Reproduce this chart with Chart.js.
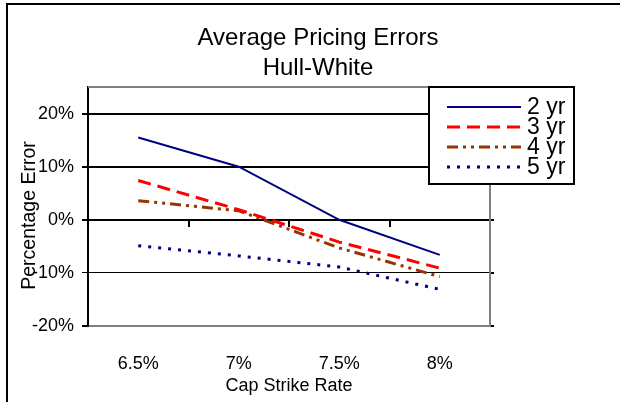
<!DOCTYPE html>
<html lang="en">
<head>
    <meta charset="UTF-8">
    <title>Average Pricing Errors</title>
    <script src="https://cdn.jsdelivr.net/npm/chart.js"></script>
</head>
<style>
    body{
        margin: 0;
        background: #fff;
    }
    .wrap{
        position: relative;
        width: 620px;
        height: 402px;
        overflow: hidden;
    }
    .frame{
        position: absolute;
        left: 6px;
        top: 3px;
        width: 620px;
        height: 402px;
        border-left: 2px solid #000;
        border-top: 2px solid #000;
        pointer-events: none;
    }
</style>
<body>
    <div class="wrap">
        <canvas id="chart" width="620" height="402"></canvas>
        <div class="frame"></div>
    </div>

<script>
    let strikes = ['6.5%', '7%', '7.5%', '8%'];
    let yr2 = [15.5, 10.0, 0.0, -6.6];
    let yr3 = [7.4, 1.9, -4.2, -9.1];
    let yr4 = [3.6, 1.7, -5.3, -10.7];
    let yr5 = [-4.9, -6.8, -8.9, -13.1];
    let seriesNames = ['2 yr', '3 yr', '4 yr', '5 yr'];
    let yTitle = 'Percentage Error';

    let font = "'Liberation Sans', Arial, sans-serif";
    let padLeft = 16;

    function keepTens(scale){
        scale.ticks = scale.ticks.filter(t => t.value <= 20);
    }

    // grey line along the top of the plot area
    let plotTop = {
        id: 'plotTop',
        beforeDatasetsDraw(chart){
            let a = chart.chartArea;
            let ctx = chart.ctx;
            ctx.save();
            ctx.strokeStyle = '#808080';
            ctx.lineWidth = 2;
            ctx.beginPath();
            ctx.moveTo(a.left, a.top);
            ctx.lineTo(a.right, a.top);
            ctx.stroke();
            ctx.restore();
        }
    };

    // y title sits a little below the middle, over the tick labels
    let sideTitle = {
        id: 'sideTitle',
        afterDraw(chart){
            let ctx = chart.ctx;
            let a = chart.chartArea;
            ctx.save();
            ctx.translate(30, (a.top + a.bottom) / 2 + 9);
            ctx.rotate(-Math.PI / 2);
            ctx.font = '19.5px ' + font;
            ctx.fillStyle = '#000';
            ctx.textAlign = 'center';
            ctx.textBaseline = 'middle';
            ctx.fillText(yTitle, 0, 0);
            ctx.restore();
        }
    };

    // legend box drawn over the top right of the plot
    let boxLegend = {
        id: 'boxLegend',
        afterDraw(chart){
            let ctx = chart.ctx;
            let a = chart.chartArea;
            let bx = 429, by = a.top, bw = 145, bh = 97;
            ctx.save();
            ctx.setLineDash([]);
            ctx.fillStyle = '#fff';
            ctx.fillRect(bx, by, bw, bh);
            ctx.strokeStyle = '#000';
            ctx.lineWidth = 2;
            ctx.strokeRect(bx, by, bw, bh);
            ctx.font = '23px ' + font;
            ctx.textBaseline = 'middle';
            chart.data.datasets.forEach((ds, i) => {
                let y = by + 20 + i * 20;
                ctx.setLineDash(ds.borderDash || []);
                ctx.strokeStyle = ds.borderColor;
                ctx.lineWidth = ds.borderWidth;
                ctx.beginPath();
                ctx.moveTo(447, y);
                ctx.lineTo(521, y);
                ctx.stroke();
                ctx.setLineDash([]);
                ctx.fillStyle = '#000';
                ctx.fillText(ds.label, 527, y + 1);
            });
            ctx.restore();
        }
    };

    let chart = new Chart(document.getElementById('chart'), {
        type: 'line',
        data: {
            labels: strikes,
            datasets: [
                { label: seriesNames[0], data: yr2, borderColor: '#000080', borderWidth: 2, borderDash: [] },
                { label: seriesNames[1], data: yr3, borderColor: '#ff0000', borderWidth: 3, borderDash: [13, 7] },
                { label: seriesNames[2], data: yr4, borderColor: '#993300', borderWidth: 3, borderDash: [11, 5, 3, 5, 3, 5] },
                { label: seriesNames[3], data: yr5, borderColor: '#000080', borderWidth: 3, borderDash: [3, 7] }
            ]
        },
        options: {
            responsive: false,
            animation: false,
            layout: { padding: { left: padLeft, right: 0, top: 0, bottom: 0 } },
            elements: {
                point: { radius: 0, hoverRadius: 0 },
                line: { tension: 0, fill: false, borderCapStyle: 'butt' }
            },
            scales: {
                x: {
                    type: 'category',
                    position: { y: 0 },
                    offset: true,
                    ticks: { display: false },
                    grid: { offset: true, drawOnChartArea: false, tickLength: 6, color: '#000', lineWidth: 2 },
                    border: { display: true, color: '#000', width: 2 }
                },
                x2: {
                    type: 'category',
                    position: 'bottom',
                    offset: true,
                    grid: { display: false },
                    border: { display: true, color: '#808080', width: 2 },
                    ticks: { color: '#000', font: { family: font, size: 18 }, padding: 19, maxRotation: 0 },
                    title: { display: true, text: 'Cap Strike Rate', color: '#000', font: { family: font, size: 18 }, padding: { top: 0, bottom: 5 } },
                    afterFit(scale){ scale.height = 76; }
                },
                y: {
                    position: 'left',
                    min: -20,
                    max: 25,
                    afterBuildTicks: keepTens,
                    ticks: { stepSize: 10, color: '#000', font: { family: font, size: 18 }, padding: 8, callback: v => v + '%' },
                    grid: {
                        color: c => c.tick && c.tick.value === -20 ? '#808080' : '#000',
                        lineWidth: c => c.tick && c.tick.value === -10 ? 1 : 2,
                        tickColor: '#000',
                        tickLength: 6
                    },
                    border: { display: true, color: '#000', width: 2 },
                    afterFit(scale){ scale.width = 88 - padLeft; }
                },
                y2: {
                    position: 'right',
                    min: -20,
                    max: 25,
                    afterBuildTicks: keepTens,
                    ticks: { display: false, stepSize: 10 },
                    grid: { drawOnChartArea: false, color: '#000', lineWidth: 2, tickLength: 4 },
                    border: { display: true, color: '#808080', width: 2 },
                    afterFit(scale){ scale.width = 130; }
                }
            },
            plugins: {
                legend: { display: false },
                tooltip: { enabled: false },
                title: {
                    display: true,
                    text: ['Average Pricing Errors', 'Hull-White'],
                    color: '#000',
                    font: { family: font, size: 24, weight: 'normal', lineHeight: 1.25 },
                    padding: { top: 23, bottom: 4 }
                }
            }
        },
        plugins: [plotTop, sideTitle, boxLegend]
    });
</script>
</body>
</html>
